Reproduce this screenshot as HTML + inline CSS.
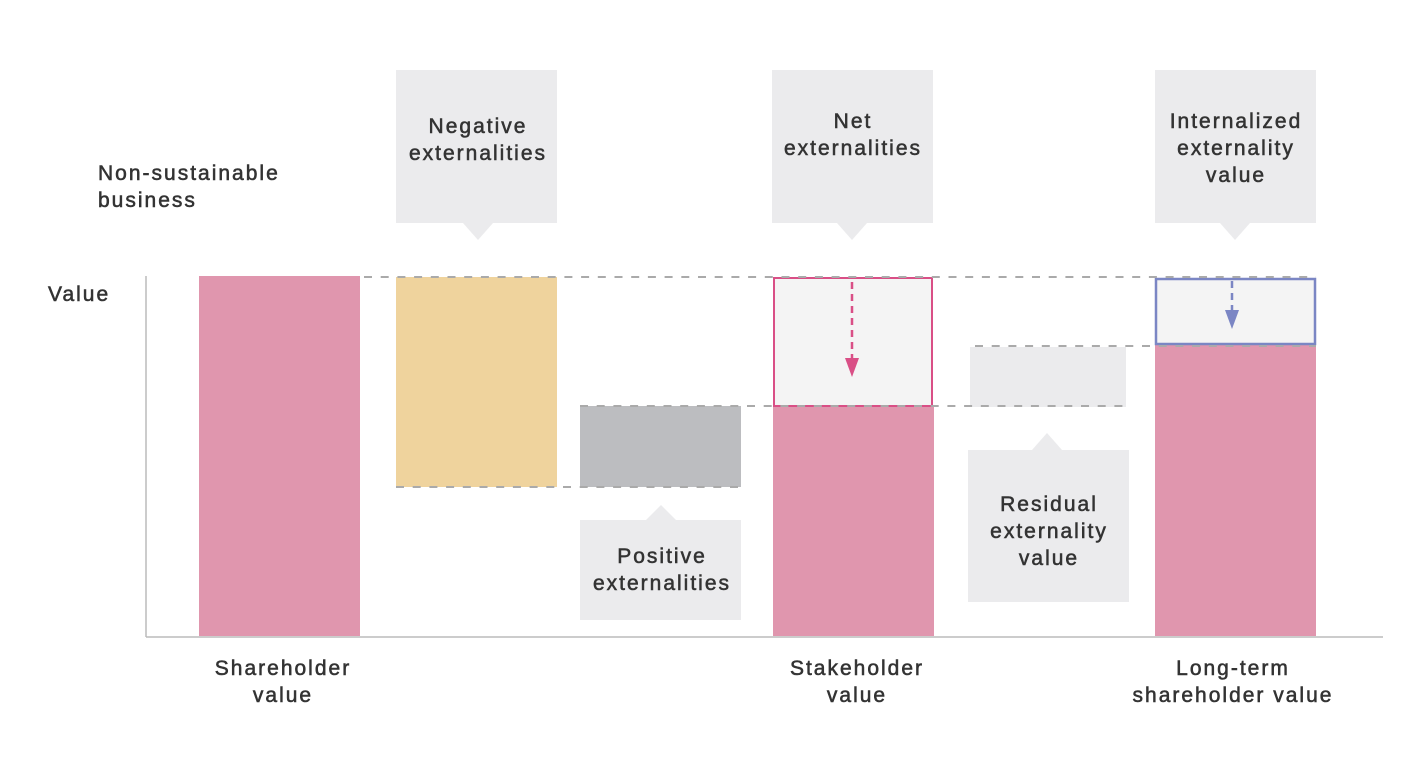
<!DOCTYPE html>
<html><head><meta charset="utf-8"><style>
body{margin:0;background:#fff;}
svg text{font-family:"Liberation Sans",sans-serif;font-size:21px;letter-spacing:2px;fill:#333;stroke:#333;stroke-width:0.55px;}
</style></head><body>
<svg width="1422" height="758" viewBox="0 0 1422 758" xmlns="http://www.w3.org/2000/svg">
<line x1="146" y1="276" x2="146" y2="637" stroke="#bbb" stroke-width="1.5"/>
<line x1="146" y1="637" x2="1383" y2="637" stroke="#bbb" stroke-width="1.5"/>
<rect x="199" y="276" width="161" height="360" fill="#e096ae"/>
<rect x="396" y="277" width="161" height="210" fill="#efd39d"/>
<rect x="580" y="406" width="161" height="81" fill="#bcbdc0"/>
<rect x="773" y="406" width="161" height="230" fill="#e096ae"/>
<rect x="774" y="278" width="158" height="128" fill="#f4f4f4" stroke="#d94f86" stroke-width="2"/>
<rect x="970" y="347" width="156" height="60" fill="#ebebed"/>
<rect x="1155" y="345" width="161" height="291" fill="#e096ae"/>
<rect x="1156" y="279" width="159" height="65" fill="#f4f4f4" stroke="#7b86c4" stroke-width="2.5"/>
<g stroke="#aaa" stroke-width="2" stroke-dasharray="8 8.7" fill="none">
<line x1="364" y1="277" x2="1316" y2="277"/>
<line x1="396" y1="487" x2="741" y2="487"/>
<line x1="580" y1="406" x2="1126" y2="406"/>
<line x1="975" y1="346" x2="1316" y2="346"/>
</g>
<line x1="852" y1="282" x2="852" y2="360" stroke="#d94f86" stroke-width="2.5" stroke-dasharray="7 5"/>
<polygon points="845,358 859,358 852,377" fill="#d94f86"/>
<line x1="1232" y1="281" x2="1232" y2="312" stroke="#7b86c4" stroke-width="2.5" stroke-dasharray="7 5"/>
<polygon points="1225,310 1239,310 1232,329" fill="#7b86c4"/>
<g fill="#ebebed">
<rect x="396" y="70" width="161" height="153"/><polygon points="463,223 493,223 478,240"/>
<rect x="772" y="70" width="161" height="153"/><polygon points="837,223 867,223 852,240"/>
<rect x="1155" y="70" width="161" height="153"/><polygon points="1220,223 1250,223 1235,240"/>
<rect x="580" y="520" width="161" height="100"/><polygon points="646,520 676,520 661,505"/>
<rect x="968" y="450" width="161" height="152"/><polygon points="1032,450 1062,450 1047,433"/>
</g>
<g text-anchor="middle">
<text x="478" y="133">Negative</text><text x="478" y="160">externalities</text>
<text x="853" y="128">Net</text><text x="853" y="155">externalities</text>
<text x="1236" y="128">Internalized</text><text x="1236" y="155">externality</text><text x="1236" y="182">value</text>
<text x="662" y="563">Positive</text><text x="662" y="590">externalities</text>
<text x="1049" y="511">Residual</text><text x="1049" y="538">externality</text><text x="1049" y="565">value</text>
<text x="283" y="675">Shareholder</text><text x="283" y="702">value</text>
<text x="857" y="675">Stakeholder</text><text x="857" y="702">value</text>
<text x="1233" y="675">Long-term</text><text x="1233" y="702">shareholder value</text>
</g>
<text x="98" y="180">Non-sustainable</text><text x="98" y="207">business</text>
<text x="48" y="301">Value</text>
</svg>
</body></html>
